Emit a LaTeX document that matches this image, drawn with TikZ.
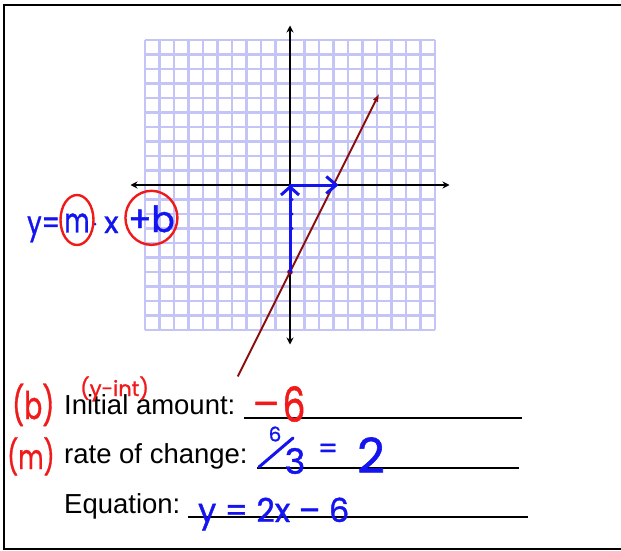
\documentclass[tikz,border=0pt]{standalone}
\usepackage{fontspec}
\setmainfont{Liberation Sans}
\newfontfamily\handfont[FakeBold=1.2]{Poppins}
\usetikzlibrary{arrows.meta}
\definecolor{InkBlue}{HTML}{1414F0}
\definecolor{InkRed}{HTML}{F01A1A}
\definecolor{LineRed}{HTML}{8B0A0A}
\definecolor{GridBlue}{HTML}{C4C4F6}
\newcommand{\handsize}[1]{\handfont\fontsize{#1}{#1}\selectfont}

\begin{document}
\begin{tikzpicture}[x=1pt, y=-1pt,
  printed/.style={anchor=base west, inner sep=0pt, font=\fontsize{27.5}{30}\selectfont},
  bluehand/.style={text=InkBlue, inner sep=0pt},
  redhand/.style={text=InkRed, inner sep=0pt},
  blueink/.style={draw=InkBlue, line width=3pt, line cap=round},
  redink/.style={draw=InkRed, line width=2.4pt},
  gridline/.style={draw=GridBlue, line width=2.8pt},
  axis/.style={line width=1.8pt, {Stealth[length=7pt, width=7pt]}-{Stealth[length=7pt, width=7pt]}},
  graphline/.style={draw=LineRed, line width=1.8pt, -{Latex[length=8pt, width=6pt]}},
  answerline/.style={line width=1.8pt}]
% --- Frame ---
\useasboundingbox (0,0) rectangle (621,551);
\clip (0,0) rectangle (621,551);
\draw[line width=2.5pt] (4,5) rectangle (640,549);
% --- Coordinate plane ---
\begin{scope}[shift={(290,185)}, x=14.5pt, y=14.5pt]
  \foreach \i in {-10,...,10} {
    \draw[gridline] (\i,-10) -- (\i,10);
    \draw[gridline] (-10,\i) -- (10,\i);
  }
  \draw[axis] (-11,0) -- (11,0);
  \draw[axis] (0,-11) -- (0,11);
  \draw[graphline] (-3.6,-13.2) -- (6.15,6.3);
  \fill[LineRed] (0,-6) circle (2.8pt);
  % rise and run
  \draw[blueink, -{Straight Barb[length=8pt, width=18pt]}] (0,-6) -- (0,0);
  \draw[blueink, -{Straight Barb[length=10pt, width=17pt]}] (0,0) -- (3.35,0);
  \foreach \k in {1,2,3} {
    \fill[InkBlue] (0.15,-\k) circle (1.5pt);
  }
\end{scope}
% --- Slope-intercept form ---
\node[bluehand, anchor=base west, font=\handsize{32}] (yeq) at (27,234) {\scalebox{0.8}[1]{y=}};
\node[bluehand, font=\handsize{34}] (mvar) at (77,223) {\scalebox{0.72}[1]{m}};
\fill[InkBlue] (95,224) circle (1.5pt);
\node[bluehand, anchor=base west, font=\handsize{30}] (xvar) at (104,233) {x};
\node[bluehand, anchor=base west, font=\handsize{36}] (bvar) at (128,232) {\scalebox{0.95}[1]{+b}};
\draw[redink] ([yshift=3pt]mvar.center) ellipse (16.5pt and 25pt);
\draw[redink] ([yshift=1pt]bvar.center) ellipse (26pt and 27pt);
% --- Worksheet prompts ---
\node[printed] (initial) at (64,414) {Initial amount:};
\node[printed] (rate) at (64,463.5) {rate of change:};
\node[printed] (equation) at (64,513) {Equation:};
\draw[answerline] (244,418) -- (522,418);
\draw[answerline] (257,468) -- (519,468);
\draw[answerline] (188,517) -- (528,517);
% --- Red notes ---
\node[redhand, anchor=base west, font=\handsize{38}] (bpar) at (12,419) {\scalebox{0.7}[1]{(b)}};
\node[redhand, anchor=base west, font=\handsize{34}] (mpar) at (7,469) {\scalebox{0.72}[1]{(m)}};
\node[redhand, anchor=base west, font=\handsize{21}] (yint) at (80,396) {(y-int)};
\node[redhand, font=\handsize{40}] (minus) at (266,410) {–};
\node[redhand, font=\handsize{48}] (initval) at (294,404) {\scalebox{0.75}[1]{6}};
% --- Blue answers ---
\node[bluehand, font=\handsize{20}] (rise) at (275,434) {6};
\node[bluehand, font=\handsize{35}] (run) at (295,461) {3};
\draw[blueink] (259,467) -- (293,438);
\node[bluehand, font=\handsize{28}] (eqsign) at (328,451) {=};
\node[bluehand, font=\handsize{48}] (slope) at (371,455) {2};
\node[bluehand, anchor=base west, font=\handsize{33}] (answer) at (198,522) {\scalebox{0.97}[1]{y = 2x – 6}};
\end{tikzpicture}
\end{document}
